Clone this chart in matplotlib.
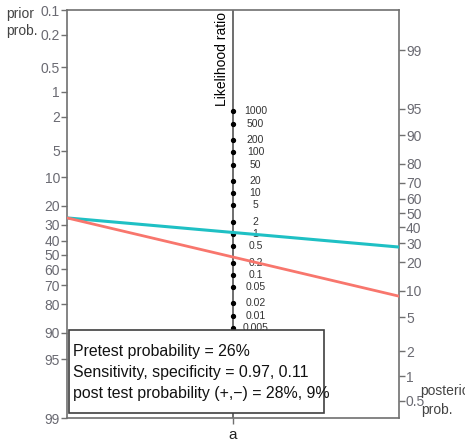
import numpy as np
import matplotlib
matplotlib.use("Agg")
import matplotlib.pyplot as plt
from matplotlib.patches import Rectangle

prior = 0.26
sens = 0.97
spec = 0.11
prior_ticks = [0.1, 0.2, 0.5, 1, 2, 5, 10, 20, 30, 40, 50, 60, 70, 80, 90, 95, 99]
post_ticks = [0.5, 1, 2, 5, 10, 20, 30, 40, 50, 60, 70, 80, 90, 95, 99]
lr_ticks = [1000, 500, 200, 100, 50, 20, 10, 5, 2, 1, 0.5, 0.2, 0.1, 0.05, 0.02, 0.01, 0.005]
lr_labels = ["1000", "500", "200", "100", "50", "20", "10", "5", "2", "1", "0.5", "0.2", "0.1",
             "0.05", "0.02", "0.01", "0.005"]

def logit(p):
    return np.log(p / (1 - p))

OFF = 1.184  # vertical offset of posterior scale
lrp = sens / (1 - spec)
lrn = (1 - sens) / spec
post_p = 1 / (1 + np.exp(-(logit(prior) + np.log(lrp))))
post_n = 1 / (1 + np.exp(-(logit(prior) + np.log(lrn))))

plt.rcParams["font.family"] = ["Liberation Sans", "DejaVu Sans"]

fig = plt.figure(figsize=(4.65, 4.45), dpi=100)
ax = fig.add_axes([67 / 465, 1 - 418 / 445, 332 / 465, 408 / 445])
ax.set_xlim(0, 2)
ax.set_ylim(-logit(0.99), -logit(0.001))

spine_c = "#707070"
tick_c = "#6a6a72"
for s in ax.spines.values():
    s.set_color(spine_c)
    s.set_linewidth(1.2)

# left axis: prior
ax.set_yticks([-logit(p / 100) for p in prior_ticks])
ax.set_yticklabels([f"{p:g}" for p in prior_ticks], fontsize=10, color=tick_c)
ax.tick_params(axis="y", direction="out", length=4, width=1, color=spine_c, pad=1)
ax.set_xticks([1])
ax.set_xticklabels([""])
ax.tick_params(axis="x", direction="out", length=4, width=1, color=spine_c)

# right axis: posterior
ax2 = ax.twinx()
ax2.set_ylim(ax.get_ylim())
ax2.set_yticks([logit(p / 100) + OFF for p in post_ticks])
ax2.set_yticklabels([f"{p:g}" for p in post_ticks], fontsize=10, color=tick_c)
ax2.tick_params(axis="y", direction="out", length=4, width=1, color=spine_c, pad=1)
for s in ax2.spines.values():
    s.set_visible(False)

# middle axis: likelihood ratio
ax.axvline(1, color="#555555", lw=1.2, zorder=2)
ymid = [(np.log(v) + OFF) / 2 for v in lr_ticks]
ax.plot([1] * len(ymid), ymid, "o", color="black", ms=2.8, zorder=3)
for y, lab in zip(ymid, lr_labels):
    ax.text(1.135, y, lab, fontsize=7.5, color="#333333", ha="center", va="center", zorder=3)
ax.text(0.935, -logit(0.001) - 0.05, "Likelihood ratio", rotation=90, fontsize=10,
        ha="center", va="top", color="black")

# lines
ax.plot([0, 2], [-logit(prior), logit(post_p) + OFF], color="#1fc0c4", lw=2.2, zorder=4)
ax.plot([0, 2], [-logit(prior), logit(post_n) + OFF], color="#f8766d", lw=2.0, zorder=4)

# info box
ax.add_patch(Rectangle((0.006, 0.012), 0.768, 0.204, transform=ax.transAxes, facecolor="white",
                       edgecolor="#404040", lw=1.2, zorder=6))
info = [f"Pretest probability = {prior * 100:.0f}%",
        f"Sensitivity, specificity = {sens:.2f}, {spec:.2f}",
        f"post test probability (+,\u2212) = {post_p * 100:.0f}%, {post_n * 100:.0f}%"]
for i, t in enumerate(info):
    ax.text(0.018, 0.162 - i * 0.051, t, transform=ax.transAxes, fontsize=11.4, color="#111111",
            ha="left", va="center", zorder=7)

fig.text(20 / 465, 1 - 14 / 445, "prior", fontsize=10, color="#444444", ha="center", va="center")
fig.text(22 / 465, 1 - 31 / 445, "prob.", fontsize=10, color="#444444", ha="center", va="center")
fig.text(420 / 465, 1 - 391 / 445, "posterior", fontsize=10, color="#444444", ha="left", va="center")
fig.text(437 / 465, 1 - 410 / 445, "prob.", fontsize=10, color="#444444", ha="center", va="center")
fig.text(233 / 465, 1 - 435 / 445, "a", fontsize=11, color="#222222", ha="center", va="center")

fig.savefig("out.png", dpi=100)
